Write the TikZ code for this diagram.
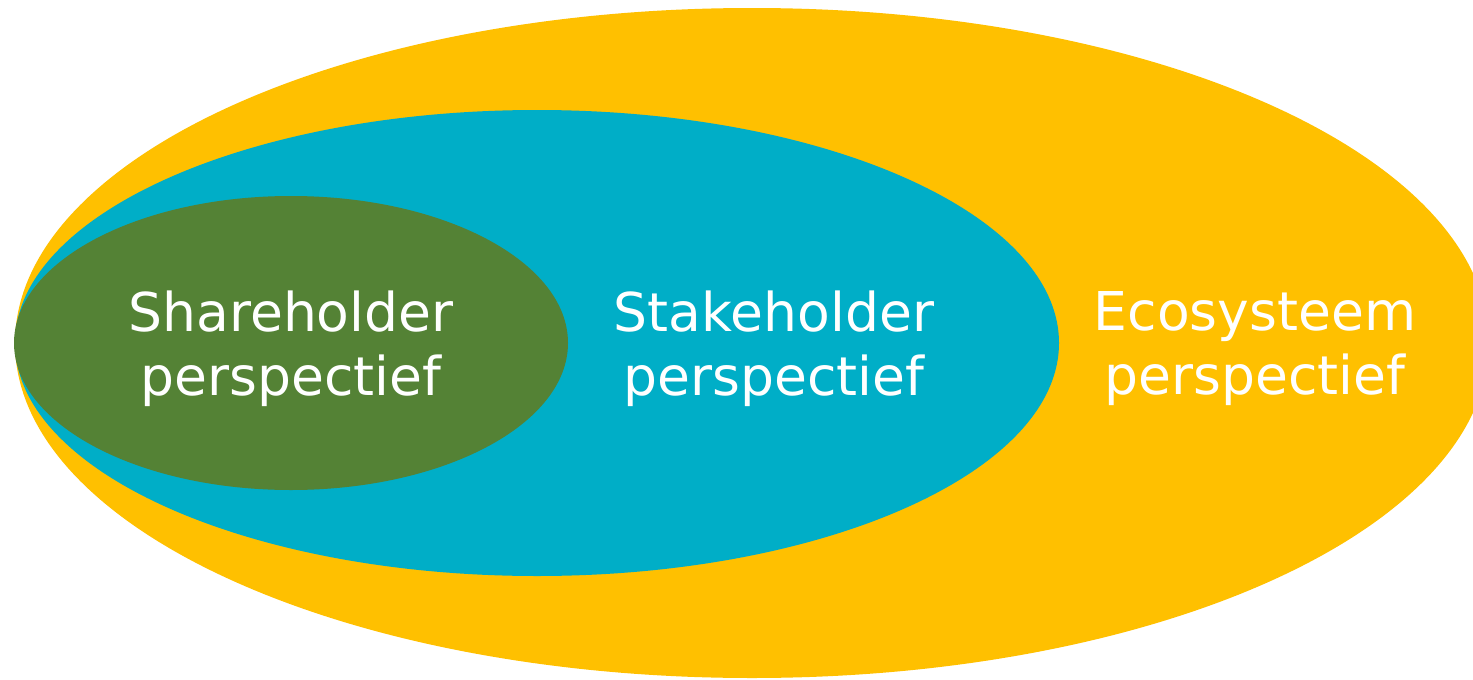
\documentclass[tikz,border=0pt]{standalone}
\usepackage{fontspec}
\setmainfont{DejaVu Sans}
\definecolor{ecoyellow}{HTML}{FFC000}
\definecolor{stakeblue}{HTML}{00AEC7}
\definecolor{sharegreen}{HTML}{548235}
\begin{document}
\begin{tikzpicture}[x=1pt,y=-1pt,
  lbl/.style={text=white,align=center,font=\fontsize{53.5}{64}\selectfont,inner sep=0pt}]
\useasboundingbox (0,0) rectangle (1473,680);
\clip (0,0) rectangle (1473,680);
\fill[ecoyellow] (752,343) ellipse [x radius=737, y radius=335];
\fill[stakeblue] (537,343) ellipse [x radius=522, y radius=233];
\fill[sharegreen] (291,343) ellipse [x radius=277, y radius=147];
\node[lbl] (share) at (291,349) {Shareholder\\perspectief};
\node[lbl] (stake) at (774,349) {Stakeholder\\perspectief};
\node[lbl] (eco) at (1255,349) {Ecosysteem\\perspectief};
\end{tikzpicture}
\end{document}
